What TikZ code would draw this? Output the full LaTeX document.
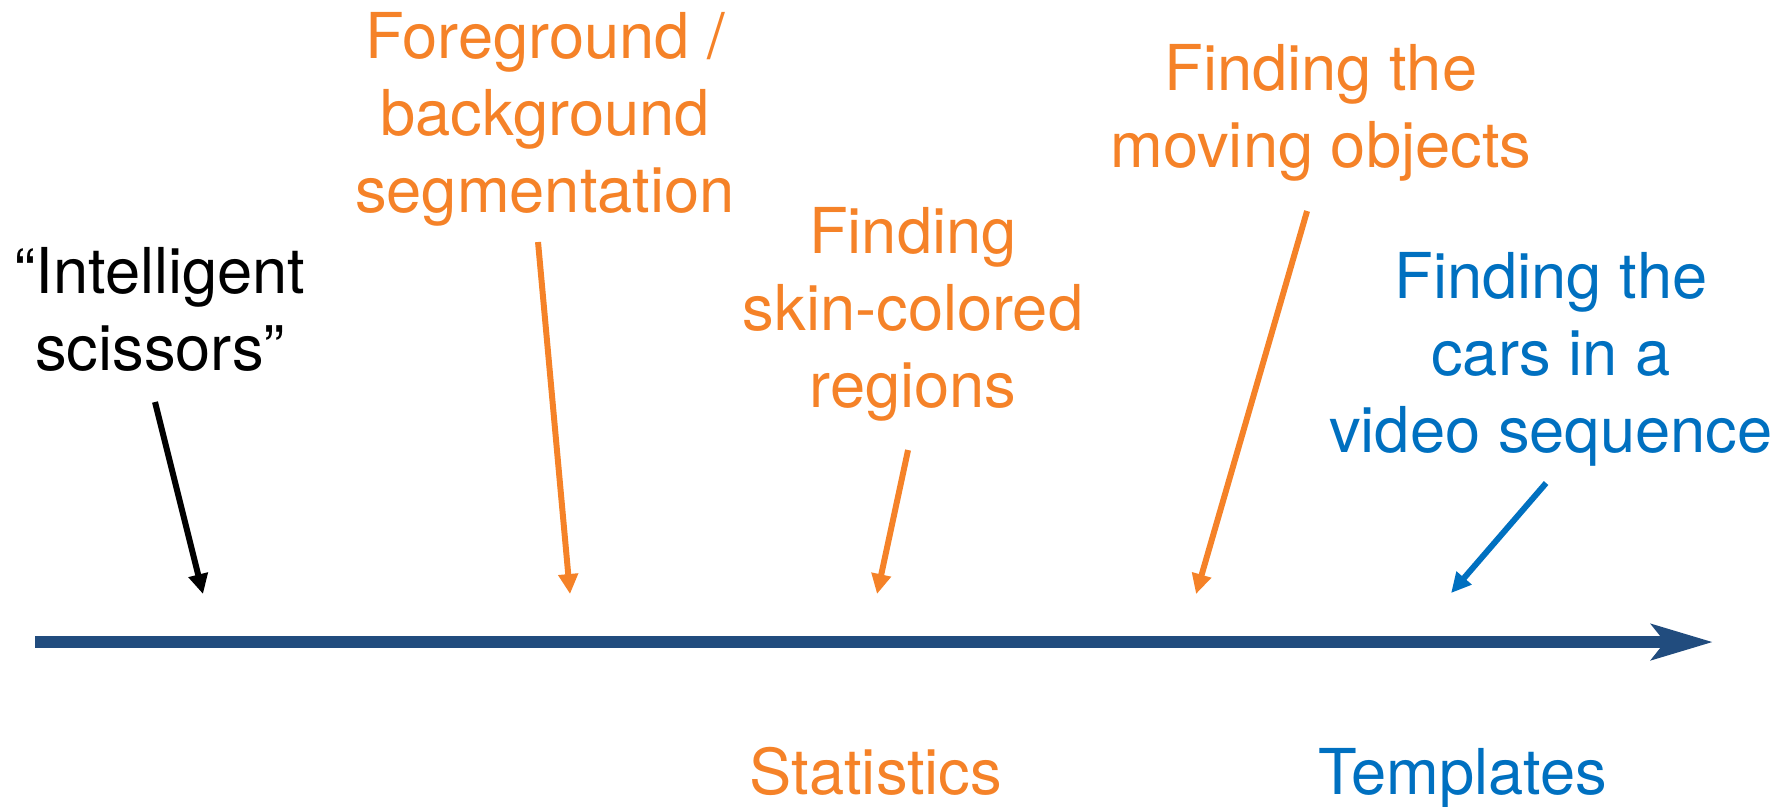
\documentclass[tikz,border=0pt]{standalone}
\usepackage{fontspec}
\setmainfont{TeX Gyre Heros}
\usepackage{tikz}
\usetikzlibrary{arrows.meta}

\definecolor{axisblue}{RGB}{33,76,126}
\definecolor{statorange}{RGB}{245,130,40}
\definecolor{tmplblue}{RGB}{0,112,192}

\begin{document}
\begin{tikzpicture}[scale=0.1]
\tikzset{every node/.style={inner sep=0pt, anchor=base, align=center,
  font=\fontsize{18}{21.9}\selectfont}}
\tikzset{pointer/.style={line width=1.7pt, -{Triangle[length=0.2cm,width=0.19cm]}}}
\useasboundingbox (0,0) rectangle (179.1,-80.6);
% time line
\coordinate (t0) at (3.5,-64.2);
\coordinate (t1) at (171.3,-64.2);
\draw [axisblue, line width=0.12cm, -{Stealth[length=0.61cm,width=0.35cm,inset=0.13cm]}] (t0) -- (t1);
% labels (placed at the baseline of their last line)
\node [black] (scis) at (16.0,-37.0) {``Intelligent\\scissors''};
\node [statorange] (fgbg) at (54.5,-21.2) {Foreground /\\background\\segmentation};
\node [statorange] (skin) at (91.3,-40.7) {Finding\\skin-colored\\regions};
\node [statorange] (move) at (132.1,-16.7) {Finding the\\moving objects};
\node [tmplblue] (cars) at (155.1,-45.2) {Finding the\\cars in a\\video sequence};
\node [statorange] (stat) at (87.6,-79.4) {Statistics};
\node [tmplblue] (tmpl) at (146.3,-79.4) {Templates};
% pointers
\coordinate (scis-a) at (15.5,-40.2);
\coordinate (scis-b) at (20.3,-59.4);
\coordinate (fgbg-a) at (53.8,-24.2);
\coordinate (fgbg-b) at (57.0,-59.4);
\coordinate (skin-a) at (90.8,-45.0);
\coordinate (skin-b) at (87.7,-59.4);
\coordinate (move-a) at (130.7,-21.1);
\coordinate (move-b) at (119.6,-59.4);
\coordinate (cars-a) at (154.6,-48.3);
\coordinate (cars-b) at (145.1,-59.3);
\draw [pointer, black] (scis-a) -- (scis-b);
\draw [pointer, statorange] (fgbg-a) -- (fgbg-b);
\draw [pointer, statorange] (skin-a) -- (skin-b);
\draw [pointer, statorange] (move-a) -- (move-b);
\draw [pointer, tmplblue] (cars-a) -- (cars-b);
\end{tikzpicture}
\end{document}
